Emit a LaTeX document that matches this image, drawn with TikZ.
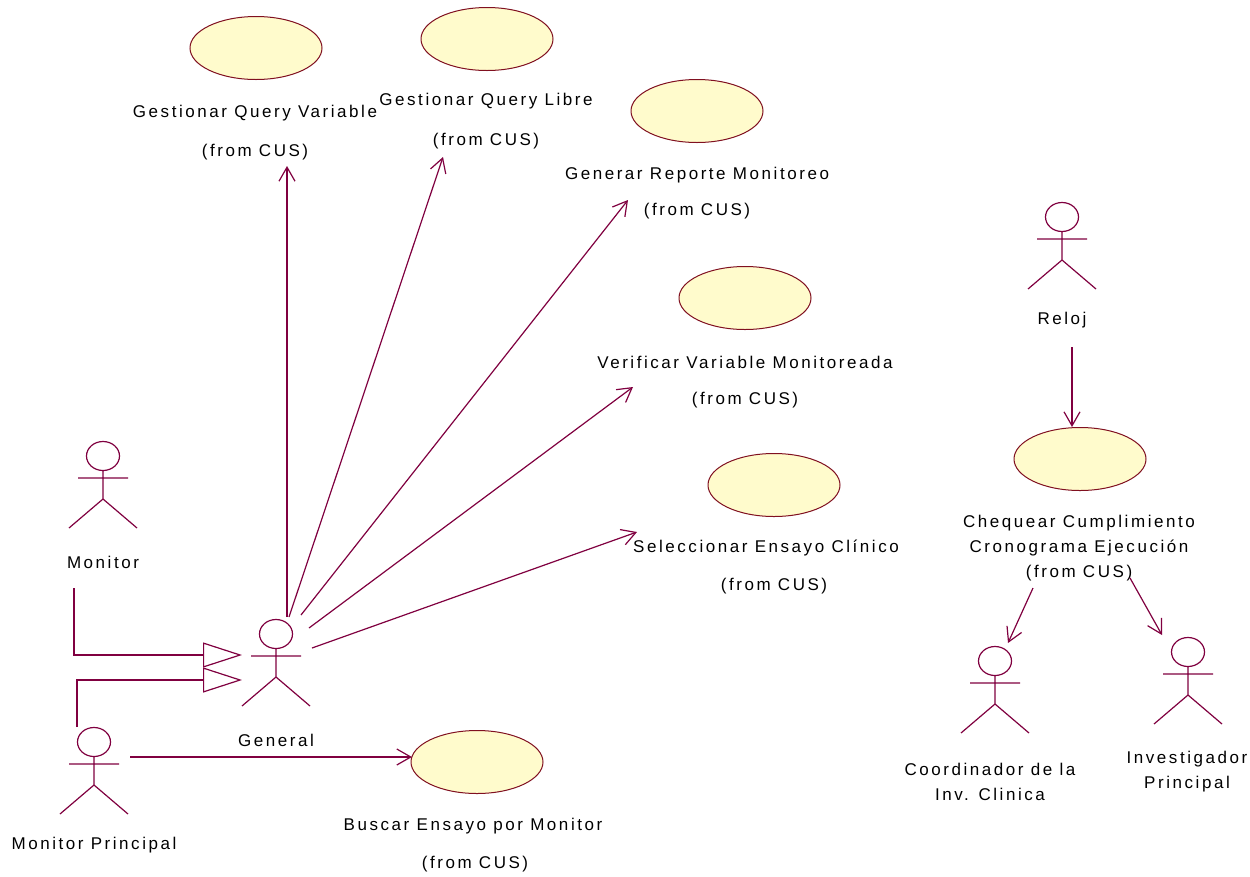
\documentclass[tikz,border=0pt]{standalone}
\usepackage{fontspec}
\setmainfont{Liberation Sans}[LetterSpace=15]
\usetikzlibrary{arrows.meta,shapes.geometric}

\definecolor{umlline}{RGB}{128,0,64}
\definecolor{ucfill}{RGB}{255,251,204}
\definecolor{ucedge}{RGB}{128,16,32}

\tikzset{
  usecase/.style={ellipse, draw=ucedge, fill=ucfill, line width=1pt,
    minimum width=132pt, minimum height=63pt, inner sep=0pt},
  lbl/.style={font=\fontsize{17}{25}\selectfont, inner sep=0pt, align=center, text=black},
  assoc/.style={draw=umlline, line width=1.2pt,
    -{Straight Barb[length=14pt, width=16pt, line width=1.2pt]}},
  genrel/.style={draw=umlline, line width=1.2pt,
    -{Triangle[open, length=39pt, width=25pt, line width=1.2pt]}},
  actor/.pic={
    \draw[umlline, line width=1.2pt]
      (0,0) ellipse[x radius=16.5pt, y radius=14.5pt]
      (0,14.5) -- (0,43)
      (-25,22) -- (25,22)
      (-34,72) -- (0,43) -- (34,72);
  }
}

\begin{document}
\begin{tikzpicture}[x=1pt, y=-1pt]
  \useasboundingbox[fill=white] (0,0) rectangle (1250,876);

  % use cases
  \node[usecase] (uc1) at (256,48) {};
  \node[lbl] (uc1-name) at (255,113) {Gestionar Query Variable};
  \node[lbl] (uc1-pkg) at (255,152) {(from CUS)};

  \node[usecase] (uc2) at (487,39) {};
  \node[lbl] (uc2-name) at (486,101) {Gestionar Query Libre};
  \node[lbl] (uc2-pkg) at (486,141) {(from CUS)};

  \node[usecase] (uc3) at (697,111) {};
  \node[lbl] (uc3-name) at (697,175) {Generar Reporte Monitoreo};
  \node[lbl] (uc3-pkg) at (697,211) {(from CUS)};

  \node[usecase] (uc4) at (745,298) {};
  \node[lbl] (uc4-name) at (745,362) {Verificar Variable Monitoreada};
  \node[lbl] (uc4-pkg) at (745,400) {(from CUS)};

  \node[usecase] (uc5) at (774,485) {};
  \node[lbl] (uc5-name) at (766,548) {Seleccionar Ensayo Clínico};
  \node[lbl] (uc5-pkg) at (774,586) {(from CUS)};

  \node[usecase] (uc6) at (477,762) {};
  \node[lbl] (uc6-name) at (473,826) {Buscar Ensayo por Monitor};
  \node[lbl] (uc6-pkg) at (475,864) {(from CUS)};

  \node[usecase] (uc7) at (1080,459) {};
  \node[lbl] (uc7-name) at (1079,548) {Chequear Cumplimiento\\Cronograma Ejecución\\(from CUS)};

  % actors
  \pic at (103,456) {actor};
  \node[lbl] (monitor) at (103,562) {Monitor};

  \pic at (276,634) {actor};
  \node[lbl] (general) at (276,740) {General};

  \pic at (94,742) {actor};
  \node[lbl] (principal) at (94,845) {Monitor Principal};

  \pic at (1062,217) {actor};
  \node[lbl] (reloj) at (1062,320) {Reloj};

  \pic at (995,661) {actor};
  \node[lbl] (coord) at (990,782) {Coordinador de la\\Inv. Clinica};

  \pic at (1188,652) {actor};
  \node[lbl] (invest) at (1187,772) {Investigador\\Principal};

  % connector end points
  \coordinate (gen-o1) at (287,617);
  \coordinate (gen-o2) at (289,617);
  \coordinate (gen-o3) at (301,615);
  \coordinate (gen-o4) at (309,628);
  \coordinate (gen-o5) at (312,648);
  \coordinate (t-uc1) at (287,166);
  \coordinate (t-uc2) at (443,157);
  \coordinate (t-uc3) at (628,200);
  \coordinate (t-uc4) at (633,387);
  \coordinate (t-uc5) at (637,532);

  \coordinate (mon-o) at (74,588);
  \coordinate (pri-o) at (77,727);
  \coordinate (gen-i1) at (242,655);
  \coordinate (gen-i2) at (242,680);

  \coordinate (pri-o2) at (130,757);
  \coordinate (t-uc6) at (412,757);

  \coordinate (rel-o) at (1072,347);
  \coordinate (uc7-o1) at (1033,588);
  \coordinate (uc7-o2) at (1130,578);
  \coordinate (t-coord) at (1008,643);
  \coordinate (t-invest) at (1162,635);

  % associations
  \draw[assoc] (gen-o1) -- (t-uc1);
  \draw[assoc] (gen-o2) -- (t-uc2);
  \draw[assoc] (gen-o3) -- (t-uc3);
  \draw[assoc] (gen-o4) -- (t-uc4);
  \draw[assoc] (gen-o5) -- (t-uc5);
  \draw[assoc] (pri-o2) -- (t-uc6);
  \draw[assoc] (rel-o) -- (rel-o |- uc7.north);
  \draw[assoc] (uc7-o1) -- (t-coord);
  \draw[assoc] (uc7-o2) -- (t-invest);

  % generalizations
  \draw[genrel] (mon-o) |- (gen-i1);
  \draw[genrel] (pri-o) |- (gen-i2);
\end{tikzpicture}
\end{document}
